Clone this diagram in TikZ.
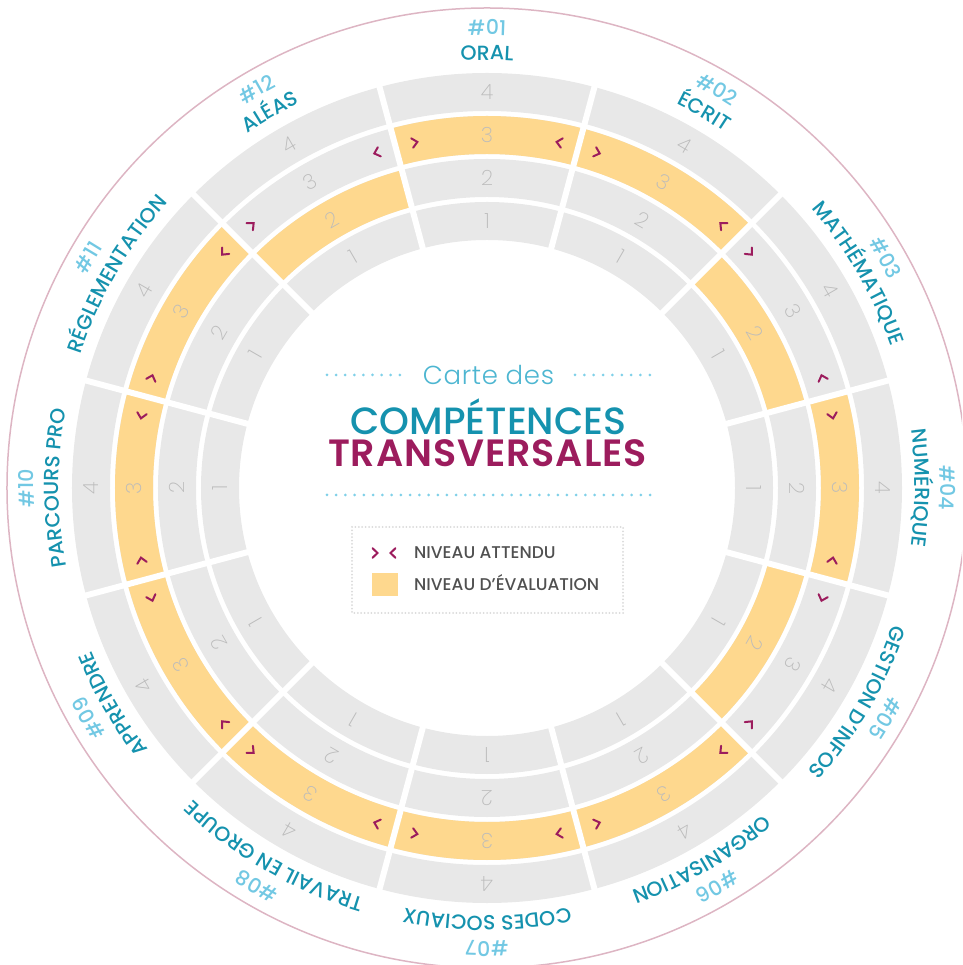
\documentclass[tikz,border=0pt]{standalone}
\usepackage{fontspec}
\setmainfont{Poppins}
\usetikzlibrary{decorations.text}
\IfFontExistsTF{Poppins Light}{\newfontfamily\lightf{Poppins Light}}{\newfontfamily\lightf{Poppins}}
\IfFontExistsTF{Poppins ExtraLight}{\newfontfamily\xlightf{Poppins ExtraLight}}{\newfontfamily\xlightf{Poppins Light}}
\IfFontExistsTF{Poppins Medium}{\newfontfamily\medf{Poppins Medium}}{\newfontfamily\medf{Poppins}}
\IfFontExistsTF{Poppins SemiBold}{\newfontfamily\semif{Poppins SemiBold}}{\newfontfamily\semif{Poppins}[FakeBold=1.5]}
\newfontfamily\regf{Poppins}
\definecolor{ringgrey}{HTML}{E8E8E8}
\definecolor{evalyel}{HTML}{FED88E}
\definecolor{magc}{HTML}{9C1C5D}
\definecolor{tealc}{HTML}{1592AE}
\definecolor{lbluec}{HTML}{72C8E3}
\definecolor{pinkc}{HTML}{DDB5C3}
\definecolor{numgrey}{HTML}{BBBBBB}
\definecolor{legtext}{HTML}{505050}
\definecolor{legdot}{HTML}{D9D9D9}
\definecolor{cartec}{HTML}{4DB6D1}
\definecolor{dotc}{HTML}{7FD0E8}
\newcommand\namefont{\medf\fontsize{20.5}{20.5}\selectfont}
\newcommand\numfont{\medf\fontsize{20.5}{20.5}\selectfont}
\newcommand\seclabel[3]{%
  \path[decorate, decoration={text along path, text={|\namefont|#2}, text align=center, text color=tealc}]
    (#1+50:428) arc[start angle=#1+50, end angle=#1-50, radius=428];
  \path[decorate, decoration={text along path, text={|\numfont|{\#}#3}, text align=center, text color=lbluec}]
    (#1+50:453) arc[start angle=#1+50, end angle=#1-50, radius=453];
}
\begin{document}
\begin{tikzpicture}[x=1pt,y=1pt,
  ringnum/.style={text=numgrey, font=\xlightf\fontsize{21}{21}\selectfont, inner sep=0pt},
  chev/.style={draw=magc, line width=2pt, line cap=round, line join=miter},
  legtxt/.style={text=legtext, font=\medf\fontsize{17}{17}\selectfont, anchor=base west, inner sep=0pt}]
\useasboundingbox (-487,-477) rectangle (475,488);
\clip (-487,-477) rectangle (475,488);
% outer circle
\draw[pinkc, line width=1.5pt] (0,0) circle (480);
% grey rings
\foreach \k in {1,...,4} \draw[ringgrey, line width=38pt] (0,0) circle ({267+43*(\k-1)});
% evaluation level (yellow)
\foreach \a/\l in {90/3,60/3,30/2,0/3,-30/2,-60/3,-90/3,-120/3,-150/3,180/3,150/3,120/2} {
  \pgfmathsetmacro\rr{267+43*(\l-1)}
  \pgfmathsetmacro\sa{\a+15}
  \pgfmathsetmacro\ea{\a-15}
  \draw[evalyel, line width=38pt] (\sa:\rr) arc[start angle=\sa, end angle=\ea, radius=\rr];
}
% radial gaps
\foreach \k in {0,...,11} {
  \pgfmathsetmacro\ga{15+30*\k}
  \draw[white, line width=6pt] (\ga:235) -- (\ga:425);
}
% ring digits
\foreach \a [count=\i] in {90,60,30,0,-30,-60,-90,-120,-150,180,150,120} {
  \foreach \k in {1,...,4} {
    \pgfmathsetmacro\rr{267+43*(\k-1)}
    \node[ringnum, rotate=\a-90] (d-\i-\k) at (\a:\rr) {\k};
  }
}
% expected level chevrons (ring 3)
\foreach \a in {90,60,30,0,-30,-60,-90,-120,-150,180,150,120} {
  \pgfmathsetmacro\pa{\a+11.8}
  \pgfmathsetmacro\pb{\a-11.8}
  \pgfmathsetmacro\ra{\pa-90}
  \pgfmathsetmacro\rb{\pb+90}
  \draw[chev, shift={(\pa:353)}, rotate=\ra] (-2.7,4.8) -- (2.6,0) -- (-2.7,-4.8);
  \draw[chev, shift={(\pb:353)}, rotate=\rb] (-2.7,4.8) -- (2.6,0) -- (-2.7,-4.8);
}
% sector labels
\seclabel{90}{ORAL}{01}
\seclabel{60}{ÉCRIT}{02}
\seclabel{30}{M{AT}HÉM{AT}IQUE}{03}
\seclabel{0}{NUMÉRIQUE}{04}
\seclabel{-30}{GESTION D’INFOS}{05}
\seclabel{-60}{ORGANIS{AT}ION}{06}
\seclabel{-90}{CODES SOCIAUX}{07}
\seclabel{-120}{TR{AVA}IL EN GROUPE}{08}
\seclabel{-150}{APPRENDRE}{09}
\seclabel{180}{{PA}RCOURS PRO}{10}
\seclabel{150}{RÉGLEMEN{TA}TION}{11}
\seclabel{120}{ALÉAS}{12}
% centre title
\foreach \x in {0,...,8} {
  \fill[dotc] (-160+\x*9.1,113) circle (1.5);
  \fill[dotc] (88+\x*9.35,113) circle (1.5);
}
\foreach \x in {0,...,35} \fill[dotc] (-160+\x*9.23,-7) circle (1.5);
\node[text=cartec, font=\lightf\fontsize{26}{26}\selectfont\addfontfeatures{LetterSpace=2.5}, anchor=base, inner sep=0pt] (carte) at (1.5,103) {Carte des};
\node[text=tealc, font=\medf\fontsize{38}{38}\selectfont, anchor=base, inner sep=0pt] (comp) at (1.5,53) {COMPÉTENCES};
\node[text=magc, font=\semif\fontsize{38}{38}\selectfont\addfontfeatures{LetterSpace=2.5}, anchor=base, inner sep=0pt] (trans) at (0.5,21) {TRANSVERSALES};
% legend
\draw[legdot, line width=2pt, line cap=round, dash pattern=on 0pt off 3.4pt] (-135,-39) rectangle (136,-125);
\draw[chev] (-114.5,-60.2) -- (-109.5,-65) -- (-114.5,-69.8);
\draw[chev] (-91.5,-60.2) -- (-96.5,-65) -- (-91.5,-69.8);
\fill[evalyel] (-115,-85) rectangle (-89,-108);
\node[legtxt] (att) at (-73,-71) {NIVEAU ATTENDU};
\node[legtxt] (eva) at (-73,-103) {NIVEAU D’ÉVALUATION};
\end{tikzpicture}
\end{document}
